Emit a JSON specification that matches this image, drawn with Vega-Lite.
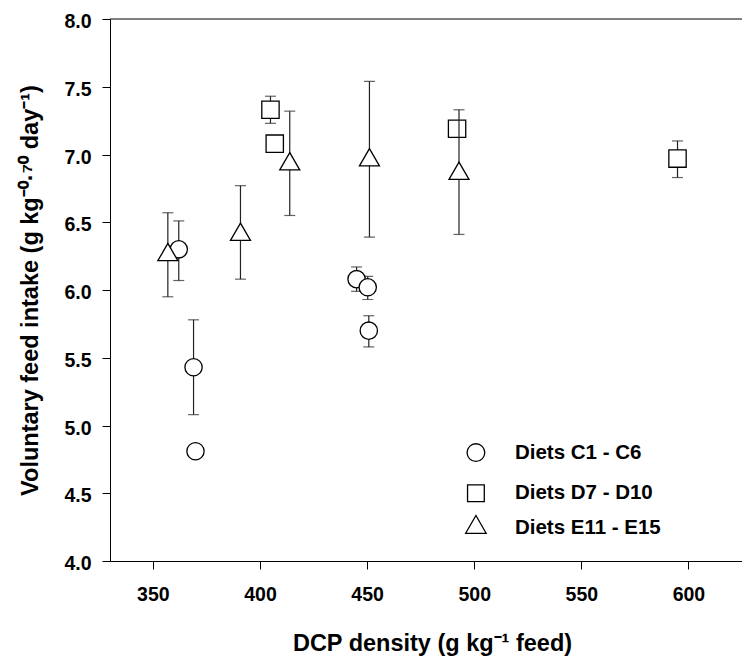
{
  "$schema": "https://vega.github.io/schema/vega-lite/v6.json",
  "width": 632,
  "height": 542,
  "autosize": {"type": "none"},
  "padding": {"left": 110, "top": 19, "right": 0, "bottom": 96},
  "background": "white",
  "config": {
    "view": {"stroke": null},
    "font": "Liberation Sans"
  },
  "data": {
    "values": [
      {"group": "Diets C1 - C6", "x": 362.1, "y": 6.30, "lo": 6.07, "hi": 6.51},
      {"group": "Diets C1 - C6", "x": 369.0, "y": 5.43, "lo": 5.08, "hi": 5.78},
      {"group": "Diets C1 - C6", "x": 369.9, "y": 4.81, "lo": null, "hi": null},
      {"group": "Diets C1 - C6", "x": 445.1, "y": 6.08, "lo": 5.99, "hi": 6.17},
      {"group": "Diets C1 - C6", "x": 450.3, "y": 6.02, "lo": 5.93, "hi": 6.10},
      {"group": "Diets C1 - C6", "x": 450.8, "y": 5.70, "lo": 5.58, "hi": 5.81},
      {"group": "Diets D7 - D10", "x": 404.9, "y": 7.33, "lo": 7.23, "hi": 7.43},
      {"group": "Diets D7 - D10", "x": 406.9, "y": 7.08, "lo": null, "hi": null},
      {"group": "Diets D7 - D10", "x": 492.0, "y": 7.19, "lo": null, "hi": null},
      {"group": "Diets D7 - D10", "x": 594.9, "y": 6.97, "lo": 6.83, "hi": 7.10},
      {"group": "Diets E11 - E15", "x": 357.0, "y": 6.28, "lo": 5.95, "hi": 6.57},
      {"group": "Diets E11 - E15", "x": 390.9, "y": 6.43, "lo": 6.08, "hi": 6.77},
      {"group": "Diets E11 - E15", "x": 413.9, "y": 6.95, "lo": 6.55, "hi": 7.32},
      {"group": "Diets E11 - E15", "x": 451.1, "y": 6.98, "lo": 6.39, "hi": 7.54},
      {"group": "Diets E11 - E15", "x": 492.9, "y": 6.88, "lo": 6.41, "hi": 7.33}
    ]
  },
  "layer": [
    {
      "data": {"values": [{"v": 8}]},
      "mark": {"type": "rule", "color": "black", "strokeWidth": 1},
      "encoding": {
        "y": {"field": "v", "type": "quantitative", "title": "Voluntary feed intake (g kg⁻⁰·⁷⁰ day⁻¹)"}
      }
    },
    {
      "transform": [{"filter": "datum.group !== 'Diets E11 - E15' && isValid(datum.lo)"}],
      "mark": {"type": "rule", "color": "#222", "strokeWidth": 1.2},
      "encoding": {
        "x": {"field": "x", "type": "quantitative", "title": "DCP density (g kg⁻¹ feed)"},
        "y": {"field": "lo", "type": "quantitative", "title": "Voluntary feed intake (g kg⁻⁰·⁷⁰ day⁻¹)"},
        "y2": {"field": "hi"}
      }
    },
    {
      "transform": [{"filter": "datum.group !== 'Diets E11 - E15' && isValid(datum.lo)"}],
      "mark": {"type": "tick", "orient": "horizontal", "color": "#222", "size": 11, "thickness": 1.2},
      "encoding": {
        "x": {"field": "x", "type": "quantitative", "title": "DCP density (g kg⁻¹ feed)"},
        "y": {"field": "lo", "type": "quantitative", "title": "Voluntary feed intake (g kg⁻⁰·⁷⁰ day⁻¹)"}
      }
    },
    {
      "transform": [{"filter": "datum.group !== 'Diets E11 - E15' && isValid(datum.lo)"}],
      "mark": {"type": "tick", "orient": "horizontal", "color": "#222", "size": 11, "thickness": 1.2},
      "encoding": {
        "x": {"field": "x", "type": "quantitative", "title": "DCP density (g kg⁻¹ feed)"},
        "y": {"field": "hi", "type": "quantitative", "title": "Voluntary feed intake (g kg⁻⁰·⁷⁰ day⁻¹)"}
      }
    },
    {
      "transform": [{"filter": "datum.group !== 'Diets E11 - E15'"}],
      "mark": {"type": "point", "filled": false, "fill": "white", "fillOpacity": 1, "stroke": "black", "strokeWidth": 1.3, "opacity": 1, "size": 300},
      "encoding": {
        "x": {
          "field": "x", "type": "quantitative",
          "scale": {"domain": [330, 625], "nice": false, "zero": false},
          "title": "DCP density (g kg⁻¹ feed)",
          "axis": {
            "values": [350, 400, 450, 500, 550, 600],
            "grid": false,
            "tickSize": 8, "tickColor": "black", "tickWidth": 1,
            "domainColor": "black", "domainWidth": 1,
            "labelFont": "Liberation Sans", "labelFontSize": 19.5, "labelFontWeight": "bold", "labelColor": "black",
            "labelPadding": 16, "labelFlush": false, "labelOverlap": false,
            "titleFont": "Liberation Sans", "titleFontSize": 23.5, "titleFontWeight": "bold", "titleColor": "black",
            "titleX": 322, "titleY": 89, "titleAlign": "center", "titleBaseline": "alphabetic"
          }
        },
        "y": {
          "field": "y", "type": "quantitative",
          "scale": {"domain": [4, 8], "nice": false, "zero": false},
          "title": "Voluntary feed intake (g kg⁻⁰·⁷⁰ day⁻¹)",
          "axis": {
            "values": [4, 4.5, 5, 5.5, 6, 6.5, 7, 7.5, 8],
            "format": ".1f",
            "grid": false,
            "tickSize": 8, "tickColor": "black", "tickWidth": 1,
            "domainColor": "black", "domainWidth": 1,
            "labelFont": "Liberation Sans", "labelFontSize": 19.5, "labelFontWeight": "bold", "labelColor": "black",
            "labelPadding": 11, "labelOffset": 2.5, "labelFlush": false, "labelOverlap": false,
            "titleFont": "Liberation Sans", "titleFontSize": 23.5, "titleFontWeight": "bold", "titleColor": "black",
            "titleX": -73, "titleY": 271, "titleAngle": -90, "titleAlign": "center", "titleBaseline": "alphabetic"
          }
        },
        "shape": {
          "field": "group", "type": "nominal",
          "scale": {"domain": ["Diets C1 - C6", "Diets D7 - D10", "Diets E11 - E15"], "range": ["circle", "square", "triangle-up"]},
          "legend": null
        }
      }
    },
    {
      "transform": [{"filter": "datum.group === 'Diets E11 - E15'"}],
      "mark": {"type": "rule", "color": "#222", "strokeWidth": 1.2},
      "encoding": {
        "x": {"field": "x", "type": "quantitative", "title": "DCP density (g kg⁻¹ feed)"},
        "y": {"field": "lo", "type": "quantitative", "title": "Voluntary feed intake (g kg⁻⁰·⁷⁰ day⁻¹)"},
        "y2": {"field": "hi"}
      }
    },
    {
      "transform": [{"filter": "datum.group === 'Diets E11 - E15'"}],
      "mark": {"type": "tick", "orient": "horizontal", "color": "#222", "size": 11, "thickness": 1.2},
      "encoding": {
        "x": {"field": "x", "type": "quantitative", "title": "DCP density (g kg⁻¹ feed)"},
        "y": {"field": "lo", "type": "quantitative", "title": "Voluntary feed intake (g kg⁻⁰·⁷⁰ day⁻¹)"}
      }
    },
    {
      "transform": [{"filter": "datum.group === 'Diets E11 - E15'"}],
      "mark": {"type": "tick", "orient": "horizontal", "color": "#222", "size": 11, "thickness": 1.2},
      "encoding": {
        "x": {"field": "x", "type": "quantitative", "title": "DCP density (g kg⁻¹ feed)"},
        "y": {"field": "hi", "type": "quantitative", "title": "Voluntary feed intake (g kg⁻⁰·⁷⁰ day⁻¹)"}
      }
    },
    {
      "transform": [{"filter": "datum.group === 'Diets E11 - E15'"}],
      "mark": {"type": "point", "filled": false, "fill": "white", "fillOpacity": 1, "stroke": "black", "strokeWidth": 1.3, "opacity": 1, "size": 400},
      "encoding": {
        "x": {"field": "x", "type": "quantitative", "title": "DCP density (g kg⁻¹ feed)"},
        "y": {"field": "y", "type": "quantitative", "title": "Voluntary feed intake (g kg⁻⁰·⁷⁰ day⁻¹)"},
        "shape": {"field": "group", "type": "nominal", "legend": null}
      }
    },
    {
      "data": {"values": [{"label": "Diets C1 - C6"}]},
      "mark": {"type": "point", "shape": "circle", "filled": false, "fill": "white", "fillOpacity": 1, "stroke": "black", "strokeWidth": 1.3, "size": 314},
      "encoding": {
        "x": {"datum": 500.8, "type": "quantitative"},
        "y": {"datum": 4.80, "type": "quantitative"}
      }
    },
    {
      "data": {"values": [{"label": "Diets D7 - D10"}]},
      "mark": {"type": "point", "shape": "square", "filled": false, "fill": "white", "fillOpacity": 1, "stroke": "black", "strokeWidth": 1.3, "size": 280},
      "encoding": {
        "x": {"datum": 500.8, "type": "quantitative"},
        "y": {"datum": 4.50, "type": "quantitative"}
      }
    },
    {
      "data": {"values": [{"label": "Diets E11 - E15"}]},
      "mark": {"type": "point", "shape": "triangle-up", "filled": false, "fill": "white", "fillOpacity": 1, "stroke": "black", "strokeWidth": 1.3, "size": 420},
      "encoding": {
        "x": {"datum": 500.8, "type": "quantitative"},
        "y": {"datum": 4.27, "type": "quantitative"}
      }
    },
    {
      "data": {"values": [{"label": "Diets C1 - C6"}]},
      "mark": {"type": "text", "align": "left", "baseline": "middle", "font": "Liberation Sans", "fontSize": 20.5, "fontWeight": "bold", "color": "black"},
      "encoding": {
        "x": {"datum": 519, "type": "quantitative"},
        "y": {"datum": 4.80, "type": "quantitative"},
        "text": {"field": "label"}
      }
    },
    {
      "data": {"values": [{"label": "Diets D7 - D10"}]},
      "mark": {"type": "text", "align": "left", "baseline": "middle", "font": "Liberation Sans", "fontSize": 20.5, "fontWeight": "bold", "color": "black"},
      "encoding": {
        "x": {"datum": 519, "type": "quantitative"},
        "y": {"datum": 4.50, "type": "quantitative"},
        "text": {"field": "label"}
      }
    },
    {
      "data": {"values": [{"label": "Diets E11 - E15"}]},
      "mark": {"type": "text", "align": "left", "baseline": "middle", "font": "Liberation Sans", "fontSize": 20.5, "fontWeight": "bold", "color": "black"},
      "encoding": {
        "x": {"datum": 519, "type": "quantitative"},
        "y": {"datum": 4.24, "type": "quantitative"},
        "text": {"field": "label"}
      }
    }
  ]
}
